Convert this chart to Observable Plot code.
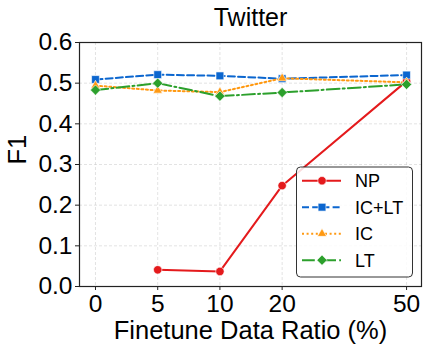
<!DOCTYPE html>
<html><head><meta charset="utf-8">
<script src="https://cdn.jsdelivr.net/npm/d3@7"></script>
<script src="https://cdn.jsdelivr.net/npm/@observablehq/plot@0.6"></script>
<style>
body{margin:0;background:#fff;font-family:"Liberation Sans",Arial,sans-serif}
#c{position:relative;width:429px;height:353px}
#legend{position:absolute;left:0;top:0}
</style>
</head><body><div id="c"></div>
<script>
// Data
const ratios = [0, 5, 10, 20, 50];          // tick labels (%)
const slots  = [0, 1, 2, 3, 5];             // position of each ratio on the axis
const seriesNames = ["NP", "IC+LT", "IC", "LT"];
const npVals   = [null, 0.041, 0.037, 0.248, 0.505];
const icltVals = [0.509, 0.521, 0.518, 0.511, 0.520];
const icVals   = [0.494, 0.482, 0.478, 0.512, 0.502];
const ltVals   = [0.483, 0.500, 0.468, 0.477, 0.497];
const yTicks = [0, 0.1, 0.2, 0.3, 0.4, 0.5, 0.6];

const colors  = ["#e41a1c", "#0b66cf", "#ff9912", "#2ca02c"];
const dashes  = [null, "7,3.2", "2,2.6", "12.8,3.2,2,3.2"];
const symbols = ["circle", "square", "triangle", "diamond2"];
const radii   = [4.2, 4.4, 3.4, 4.6];
const allVals = [npVals, icltVals, icVals, ltVals];

const rows = [];
seriesNames.forEach((s, i) => {
  allVals[i].forEach((v, j) => {
    if (v != null) rows.push({series: s, si: i, slot: slots[j], ratio: ratios[j], f1: v});
  });
});

const marks = [
  Plot.gridX(slots, {stroke: "#ccc", strokeOpacity: 0.55, strokeDasharray: "3,2"}),
  Plot.gridY(yTicks, {stroke: "#ccc", strokeOpacity: 0.55, strokeDasharray: "3,2"}),
  Plot.axisX(slots, {tickFormat: d => ratios[slots.indexOf(d)], fontSize: 24.5, tickSize: 4, tickPadding: 4, label: null, stroke: "#222"}),
  Plot.axisY(yTicks, {tickFormat: d3.format(".1f"), fontSize: 24.5, tickSize: 4, tickPadding: 3, label: null, stroke: "#222"}),
  Plot.text(["Finetune Data Ratio (%)"], {frameAnchor: "bottom", dy: 44, fontSize: 25.5, lineAnchor: "middle", fill: "#000"}),
  Plot.text(["F1"], {frameAnchor: "left", dx: -62, rotate: -90, fontSize: 25.5, fill: "#000"}),
  Plot.text(["Twitter"], {frameAnchor: "top", dy: -25, fontSize: 25, lineAnchor: "middle", fill: "#000"}),
];
seriesNames.forEach((s, i) => {
  const d = rows.filter(r => r.si === i);
  marks.push(Plot.line(d, {x: "slot", y: "f1", stroke: colors[i], strokeWidth: 2, strokeDasharray: dashes[i]}));
});
seriesNames.forEach((s, i) => {
  const d = rows.filter(r => r.si === i);
  marks.push(Plot.dot(d, {x: "slot", y: "f1", symbol: () => symbols[i], r: radii[i], fill: colors[i], stroke: "#fff", strokeWidth: 0.6}));
});
marks.push(Plot.frame({stroke: "#222", strokeWidth: 1.2}));

const chart = Plot.plot({
  width: 429, height: 353,
  marginLeft: 79, marginRight: 8, marginTop: 42, marginBottom: 67,
  style: {fontFamily: "'Liberation Sans', Arial, sans-serif", background: "#fff", color: "#000"},
  x: {type: "linear", domain: [-0.257, 5.24], axis: null},
  y: {type: "linear", domain: [0, 0.6], axis: null},
  symbol: {type: "identity"},
  marks
});
document.getElementById("c").appendChild(chart);

// Legend
const lg = d3.select("#c").append("svg").attr("id", "legend").attr("width", 429).attr("height", 353)
  .style("font-family", "'Liberation Sans', Arial, sans-serif");
lg.append("rect").attr("x", 296.5).attr("y", 167).attr("width", 116).attr("height", 110)
  .attr("rx", 4).attr("fill", "#fff").attr("fill-opacity", 0.85).attr("stroke", "#333").attr("stroke-width", 1);
const symGen = {circle: d3.symbolCircle, square: d3.symbolSquare, triangle: d3.symbolTriangle, diamond2: d3.symbolDiamond2};
seriesNames.forEach((s, i) => {
  const y = 180.7 + i * 26.5;
  lg.append("line").attr("x1", 302).attr("x2", 341).attr("y1", y).attr("y2", y)
    .attr("stroke", colors[i]).attr("stroke-width", 2).attr("stroke-dasharray", dashes[i]);
  lg.append("path").attr("transform", `translate(322,${y})`)
    .attr("d", d3.symbol(symGen[symbols[i]], Math.PI * radii[i] * radii[i])())
    .attr("fill", colors[i]).attr("stroke", "#fff").attr("stroke-width", 0.6);
  lg.append("text").attr("x", 355).attr("y", y).attr("dy", "0.35em").attr("font-size", 18).attr("fill", "#000").text(s);
});
</script>
</body></html>
